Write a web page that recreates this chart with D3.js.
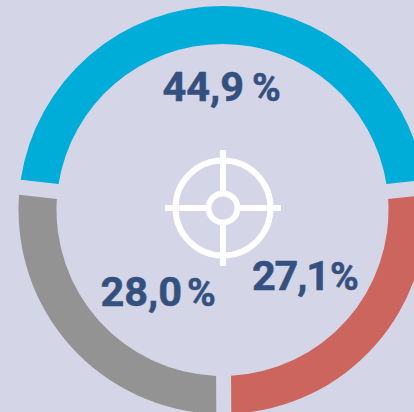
<!DOCTYPE html>
<html><head><meta charset="utf-8">
<script src="https://cdn.jsdelivr.net/npm/d3@7/dist/d3.min.js"></script>
<style>html,body{margin:0;padding:0;background:#d4d5e7;overflow:hidden}svg{display:block}</style>
</head><body><svg id="c" width="414" height="412"></svg>
<script>
const categories = ["blue", "red", "gray"];
const numbers = ["44,9", "27,1", "28,0"];
const drawnShares = [46.45, 26.67, 26.88];
const colors = ["#00acd8", "#cb655d", "#939393"];
const numberX = [162.5, 252, 100.5];
const numberSpacing = [0, -1.2, 0];
const percentX = [252, 330, 187];
const baseY = [101, 290, 306];

const svg = d3.select("#c");
const cx = 222.5, cy = 210, rOuter = 204, rInner = 166;
const g = svg.append("g").attr("transform", `translate(${cx},${cy})`);
const startA = (-83.6) * Math.PI / 180;
const pie = d3.pie().sort(null).startAngle(startA).endAngle(startA + 2 * Math.PI).value(d => d.v);
const data = categories.map((c, i) => ({c, v: drawnShares[i], col: colors[i]}));
const arc = d3.arc().innerRadius(rInner).outerRadius(rOuter).padRadius(185).padAngle(15 / 185);
g.selectAll("path.s").data(pie(data)).join("path").attr("class","s")
  .attr("d", arc).attr("fill", d => d.data.col);

// crosshair icon
const ic = svg.append("g").attr("transform", "translate(223,208)").attr("fill","none").attr("stroke","#fff").attr("stroke-width",6);
ic.append("circle").attr("r",47.5);
ic.append("circle").attr("r",14.5);
ic.append("path").attr("d","M0,-58V-14.5M0,14.5V58M-58,0H-14.5M14.5,0H58");

const t = svg.selectAll("text.l").data(numbers).join("text").attr("class","l")
  .attr("y",(d,i)=>baseY[i])
  .style("font-family","Roboto").style("font-weight",700).attr("fill","#34507f")
  .attr("stroke","#34507f").attr("stroke-width",0.5);
t.append("tspan").attr("x",(d,i)=>numberX[i]).style("font-size","41.5px")
  .style("letter-spacing",(d,i)=>numberSpacing[i]+"px").text(d=>d);
t.append("tspan").attr("x",(d,i)=>percentX[i]).style("font-size","39px").text("%");
</script></body></html>
